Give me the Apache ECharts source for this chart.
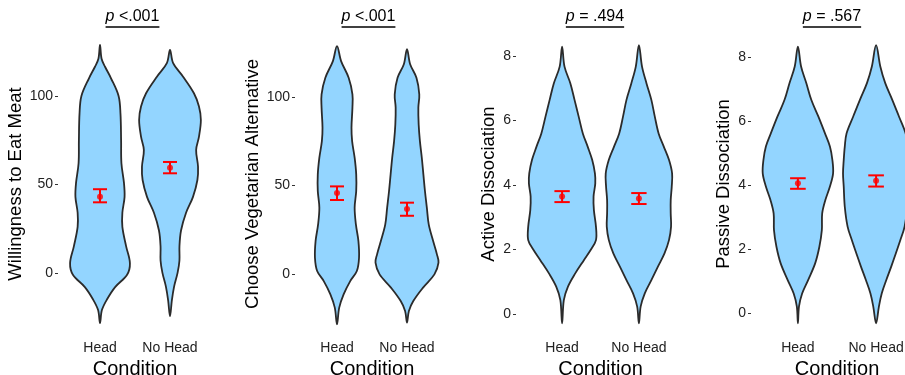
<!DOCTYPE html>
<html>
<head>
<meta charset="utf-8">
<script src="https://cdn.jsdelivr.net/npm/echarts@6.0.0/dist/echarts.min.js"></script>
<style>
html,body{margin:0;padding:0;background:#fff;}
#chart{width:905px;height:375px;}
</style>
</head>
<body>
<div id="chart"></div>
<script>
// ---------- data ----------
const categories = ['Head', 'No Head'];
const yAxisNames = ['Willingness to Eat Meat', 'Choose Vegetarian Alternative', 'Active Dissociation', 'Passive Dissociation'];
const pTexts = ['<.001', '<.001', '= .494', '= .567'];
const yTicksPct = [0, 50, 100];
const yTicksScale = [0, 2, 4, 6, 8];

// violin profiles: [value, relative density (1 = widest)]
const meatHead = [[128.8,0],[121,.05],[116.5,.16],[110,.35],[100,.59],[90,.65],[75,.67],[62,.68],[51,.76],[43,.78],[34,.71],[26,.71],[15,.83],[5.5,.95],[-1,.86],[-8,.48],[-15,.22],[-21,.06],[-28.4,0]];
const meatNoHead = [[126,0],[118.5,.10],[111,.41],[101.5,.76],[94,.92],[86.4,.98],[77,.92],[69.5,.83],[60,.89],[52.5,.87],[43,.73],[34,.51],[24,.35],[15,.30],[7,.30],[0,.24],[-7.7,.13],[-15.3,.06],[-24.5,0]];
const vegHead = [[128.8,0],[120.3,.13],[110.9,.37],[101.5,.49],[94,.49],[82.7,.46],[75.1,.48],[65.7,.56],[56.3,.61],[46.9,.61],[37.5,.56],[28,.60],[18.6,.68],[9.2,.70],[1.7,.63],[-4,.42],[-11.5,.21],[-19,.07],[-28.4,0]];
const vegNoHead = [[127,0],[118.5,.10],[110.9,.30],[101.5,.39],[94,.36],[84.6,.37],[75.1,.41],[65.7,.47],[56.3,.52],[46.9,.57],[37.5,.63],[28,.69],[18.6,.83],[11.1,.95],[6.4,1.0],[-0.2,.87],[-7.7,.51],[-15.3,.20],[-20.9,.06],[-27.5,0]];
const activeHead = [[8.29,0],[7.67,.07],[7.15,.24],[6.64,.36],[6.12,.48],[5.6,.60],[5.19,.74],[4.78,.87],[4.36,.95],[4.05,.96],[3.64,.91],[3.22,.92],[2.71,.98],[2.29,.98],[1.99,.83],[1.67,.63],[1.26,.38],[0.85,.17],[0.43,.05],[-0.29,0]];
const activeNoHead = [[8.34,0],[7.67,.09],[7.15,.22],[6.64,.36],[6.12,.46],[5.6,.57],[5.19,.72],[4.78,.87],[4.36,.96],[3.95,.95],[3.53,.92],[3.12,.92],[2.71,.93],[2.29,.87],[1.88,.74],[1.47,.55],[1.05,.36],[0.64,.17],[0.23,.05],[-0.29,0]];
const passiveHead = [[8.32,0],[7.70,.09],[7.18,.24],[6.66,.38],[6.14,.58],[5.61,.77],[5.20,.91],[4.78,.98],[4.36,1.0],[3.95,.91],[3.53,.78],[3.11,.69],[2.59,.68],[2.07,.61],[1.55,.49],[1.03,.29],[0.61,.12],[0.20,.03],[-0.32,0]];
const passiveNoHead = [[8.37,0],[7.70,.12],[7.18,.26],[6.66,.46],[6.14,.65],[5.61,.84],[5.20,.89],[4.78,.92],[4.36,.94],[3.95,.92],[3.32,.89],[2.70,.81],[2.28,.69],[1.86,.56],[1.45,.43],[1.03,.29],[0.61,.16],[0.20,.08],[-0.32,0]];

// means with error bars
const meatMean = [43.1, 59.5], meatLo = [39.9, 56.3], meatHi = [47.3, 62.7];
const vegMean = [45.8, 36.7], vegLo = [41.8, 32.9], vegHi = [49.5, 40.3];
const activeMean = [3.64, 3.58], activeLo = [3.47, 3.41], activeHi = [3.81, 3.75];
const passiveMean = [4.05, 4.13], passiveLo = [3.88, 3.95], passiveHi = [4.21, 4.30];

// ---------- build ----------
const panels = [
  {violins:[meatHead, meatNoHead], mean:meatMean, lo:meatLo, hi:meatHi, ticks:yTicksPct, min:-36.2, max:136.7, left:58, width:154, nameGap:33, titleX:132.5},
  {violins:[vegHead, vegNoHead], mean:vegMean, lo:vegLo, hi:vegHi, ticks:yTicksPct, min:-35.6, max:137.3, left:295, width:154, nameGap:33, titleX:368.5},
  {violins:[activeHead, activeNoHead], mean:activeMean, lo:activeLo, hi:activeHi, ticks:yTicksScale, min:-0.713, max:8.775, left:516, width:169, nameGap:18, titleX:595},
  {violins:[passiveHead, passiveNoHead], mean:passiveMean, lo:passiveLo, hi:passiveHi, ticks:yTicksScale, min:-0.75, max:8.81, left:751, width:172, nameGap:18, titleX:832}
];
const HALF = 0.45;
const FONT = '"Liberation Sans", Arial, sans-serif';

const grid = [], xAxis = [], yAxis = [], series = [], graphic = [];
const mctx = document.createElement('canvas').getContext('2d');

panels.forEach((p, i) => {
  grid.push({left:p.left, width:p.width, top:31, height:306, containLabel:false, outerBoundsMode:'none'});
  xAxis.push({
    type:'value', gridIndex:i, min:0.4, max:2.6,
    axisLine:{show:false}, splitLine:{show:false},
    axisTick:{show:true, customValues:[1,2], length:3, lineStyle:{color:'#333', width:1}},
    axisLabel:{customValues:[1,2], formatter:v => categories[Math.round(v)-1], fontSize:14, color:'#222', margin:4, fontFamily:FONT},
    name:'Condition', nameLocation:'middle', nameGap:17,
    nameTextStyle:{fontSize:20, color:'#000', fontFamily:FONT}
  });
  yAxis.push({
    type:'value', gridIndex:i, min:p.min, max:p.max,
    axisLine:{show:false}, splitLine:{show:false},
    axisTick:{show:true, customValues:p.ticks, length:3, lineStyle:{color:'#333', width:1}},
    axisLabel:{customValues:p.ticks, fontSize:14, color:'#222', margin:5, fontFamily:FONT},
    name:yAxisNames[i], nameLocation:'middle', nameGap:p.nameGap, nameRotate:90,
    nameTextStyle:{fontSize:18.5, color:'#000', fontFamily:FONT}
  });
  // violins
  series.push({
    type:'custom', xAxisIndex:i, yAxisIndex:i, silent:true, z:1,
    data:[[1, p.violins[0][0][0]], [2, p.violins[1][0][0]]],
    encode:{x:0, y:1},
    renderItem:(params, api) => {
      const prof = p.violins[params.dataIndex];
      const cx = params.dataIndex + 1;
      const right = prof.map(([y, d]) => api.coord([cx + d*HALF, y]));
      const left = prof.slice(1, -1).map(([y, d]) => api.coord([cx - d*HALF, y])).reverse();
      return {type:'polygon', shape:{points:right.concat(left), smooth:0.35},
        style:{fill:'#93D5FF', stroke:'#2b2b2b', lineWidth:1.8}};
    }
  });
  // error bars
  series.push({
    type:'custom', xAxisIndex:i, yAxisIndex:i, silent:true, z:3,
    data:[[1, p.lo[0], p.hi[0]], [2, p.lo[1], p.hi[1]]],
    encode:{x:0, y:[1,2]},
    renderItem:(params, api) => {
      const x = api.value(0), lo = api.value(1), hi = api.value(2);
      const st = {stroke:'#FF0000', lineWidth:2};
      const a = api.coord([x, hi]), b = api.coord([x, lo]);
      const tl = api.coord([x-0.1, hi]), tr = api.coord([x+0.1, hi]);
      const bl = api.coord([x-0.1, lo]), br = api.coord([x+0.1, lo]);
      return {type:'group', children:[
        {type:'line', shape:{x1:a[0], y1:a[1], x2:b[0], y2:b[1]}, style:st},
        {type:'line', shape:{x1:tl[0], y1:tl[1], x2:tr[0], y2:tr[1]}, style:st},
        {type:'line', shape:{x1:bl[0], y1:bl[1], x2:br[0], y2:br[1]}, style:st}
      ]};
    }
  });
  // means
  series.push({
    type:'scatter', xAxisIndex:i, yAxisIndex:i, silent:true, z:4,
    symbol:'circle', symbolSize:6, itemStyle:{color:'#FF0000'},
    data:[[1, p.mean[0]], [2, p.mean[1]]]
  });
  // title with underline
  mctx.font = 'italic 16px ' + FONT;
  const w1 = mctx.measureText('p').width;
  mctx.font = '16px ' + FONT;
  const w2 = mctx.measureText(' ' + pTexts[i]).width;
  const tw = w1 + w2;
  graphic.push({
    type:'text', left:p.titleX - tw/2, top:9,
    style:{text:'{i|p}{n| ' + pTexts[i] + '}', rich:{
      i:{fontStyle:'italic', fontSize:16, fontFamily:FONT, fill:'#000'},
      n:{fontSize:16, fontFamily:FONT, fill:'#000'}}}
  });
  graphic.push({
    type:'line', shape:{x1:p.titleX - tw/2, y1:27, x2:p.titleX + tw/2, y2:27},
    style:{stroke:'#000', lineWidth:1.3}
  });
});

const chart = echarts.init(document.getElementById('chart'), null, {renderer:'canvas'});
chart.setOption({
  backgroundColor:'#fff', animation:false,
  grid, xAxis, yAxis, series, graphic
});
</script>
</body>
</html>
